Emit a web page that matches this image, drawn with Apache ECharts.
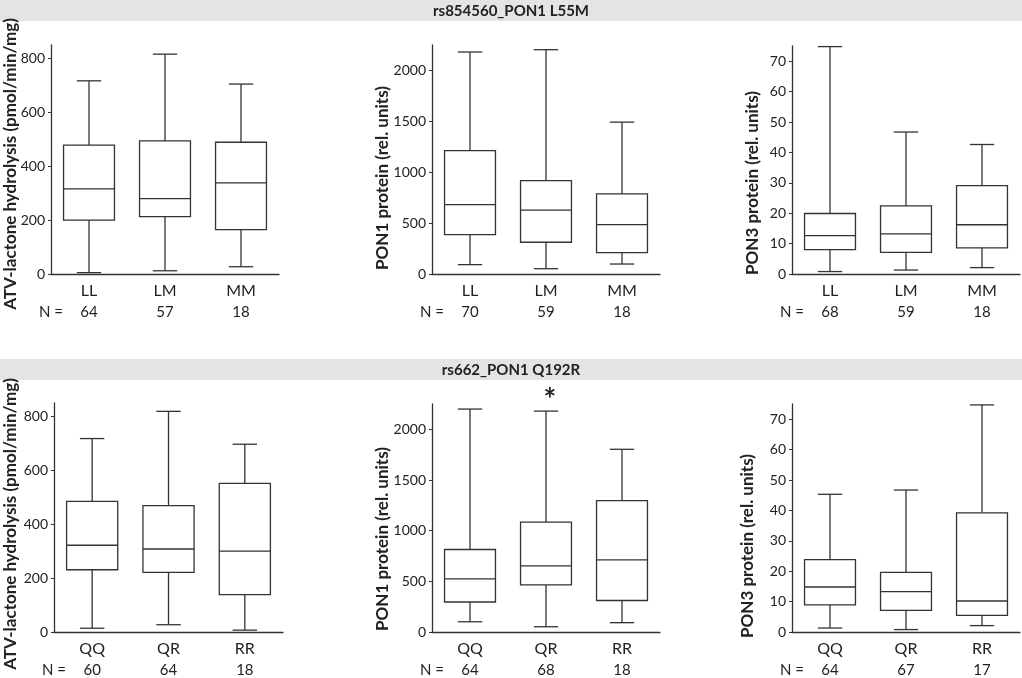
<!DOCTYPE html>
<html>
<head>
<meta charset="utf-8">
<script src="https://cdn.jsdelivr.net/npm/echarts@6/dist/echarts.min.js"></script>
<style>
html, body { margin: 0; padding: 0; background: #fff; }
#chart { width: 1022px; height: 678px; }
</style>
</head>
<body>
<div id="chart"></div>
<script>
// genotype categories
let catsL55M = ["LL", "LM", "MM"];
let catsQ192R = ["QQ", "QR", "RR"];

// box values per genotype: [min, q1, median, q3, max]
let atvL55M = [[5, 200, 316, 478, 717], [12, 213, 280, 494, 816], [27, 165, 338, 489, 705]];
let pon1L55M = [[92, 387, 682, 1213, 2181], [52, 312, 627, 918, 2204], [98, 210, 485, 787, 1492]];
let pon3L55M = [[0.8, 8.0, 12.6, 19.9, 74.8], [1.3, 7.1, 13.2, 22.4, 46.7], [2.1, 8.6, 16.2, 29.1, 42.6]];
let atvQ192R = [[14, 231, 322, 485, 718], [27, 221, 308, 469, 819], [7, 139, 300, 552, 697]];
let pon1Q192R = [[101, 296, 525, 814, 2200], [52, 466, 653, 1084, 2180], [92, 311, 712, 1296, 1803]];
let pon3Q192R = [[1.3, 8.9, 14.8, 23.8, 45.3], [0.8, 7.1, 13.3, 19.6, 46.7], [2.1, 5.5, 10.2, 39.2, 74.7]];

// sample sizes
let nAtvL55M = [64, 57, 18];
let nPon1L55M = [70, 59, 18];
let nPon3L55M = [68, 59, 18];
let nAtvQ192R = [60, 64, 18];
let nPon1Q192R = [64, 68, 18];
let nPon3Q192R = [64, 67, 17];

// y axis ranges / ticks
let yMax = [850, 2250, 75, 850, 2250, 75];
let yStep = [200, 500, 10, 200, 500, 10];

let yTitles = [
	"ATV-lactone hydrolysis (pmol/min/mg)",
	"PON1 protein (rel. units)",
	"PON3 protein (rel. units)",
	"ATV-lactone hydrolysis (pmol/min/mg)",
	"PON1 protein (rel. units)",
	"PON3 protein (rel. units)"
];
let headers = ["rs854560_PON1 L55M", "rs662_PON1 Q192R"];

let font = "Lato";
let ink = "#222";
let lineCol = "#333";

let panels = [
	{ cats: catsL55M, vals: atvL55M, n: nAtvL55M, grid: [51, 45, 228, 229], title: [11, 164] },
	{ cats: catsL55M, vals: pon1L55M, n: nPon1L55M, grid: [432, 45, 228, 229], title: [383, 178] },
	{ cats: catsL55M, vals: pon3L55M, n: nPon3L55M, grid: [792, 46, 228, 228], title: [753, 183] },
	{ cats: catsQ192R, vals: atvQ192R, n: nAtvQ192R, grid: [54, 403, 229, 229], title: [11, 524] },
	{ cats: catsQ192R, vals: pon1Q192R, n: nPon1Q192R, grid: [432, 404, 228, 228], title: [383, 539] },
	{ cats: catsQ192R, vals: pon3Q192R, n: nPon3Q192R, grid: [792, 404, 228, 228], title: [748, 546] }
];

function renderBox(params, api) {
	let x = api.value(0);
	let lo = api.coord([x, api.value(1)]);
	let q1 = api.coord([x, api.value(2)]);
	let md = api.coord([x, api.value(3)]);
	let q3 = api.coord([x, api.value(4)]);
	let hi = api.coord([x, api.value(5)]);
	let band = api.size([1, 0])[0];
	let bw = band * 0.67, cw = band * 0.32;
	let cx = lo[0];
	let st = { stroke: lineCol, lineWidth: 1.3, fill: null };
	function seg(x1, y1, x2, y2) {
		return { type: "line", shape: { x1: x1, y1: y1, x2: x2, y2: y2 }, style: st };
	}
	return {
		type: "group",
		children: [
			seg(cx, hi[1], cx, q3[1]),
			seg(cx, q1[1], cx, lo[1]),
			seg(cx - cw / 2, hi[1], cx + cw / 2, hi[1]),
			seg(cx - cw / 2, lo[1], cx + cw / 2, lo[1]),
			{
				type: "rect",
				shape: { x: cx - bw / 2, y: q3[1], width: bw, height: q1[1] - q3[1] },
				style: { stroke: lineCol, lineWidth: 1.3, fill: "#fff" }
			},
			seg(cx - bw / 2, md[1], cx + bw / 2, md[1])
		]
	};
}

let grids = [], xAxes = [], yAxes = [], series = [], graphics = [];

// grey header bands
graphics.push({ type: "rect", shape: { x: 0, y: 0, width: 1022, height: 21 }, style: { fill: "#e4e4e4" } });
graphics.push({ type: "rect", shape: { x: 0, y: 359, width: 1022, height: 21 }, style: { fill: "#e4e4e4" } });
graphics.push({ type: "text", x: 511, y: 11, style: { text: headers[0], font: "bold 15px " + font, fill: ink, textAlign: "center", textVerticalAlign: "middle" } });
graphics.push({ type: "text", x: 511, y: 370, style: { text: headers[1], font: "bold 15px " + font, fill: ink, textAlign: "center", textVerticalAlign: "middle" } });

panels.forEach(function(p, i) {
	grids.push({ left: p.grid[0], top: p.grid[1], width: p.grid[2], height: p.grid[3] });
	let n = p.n;
	xAxes.push({
		type: "category",
		gridIndex: i,
		data: p.cats,
		axisLine: { lineStyle: { color: lineCol, width: 1.3 } },
		axisTick: { alignWithLabel: true, length: 3, lineStyle: { color: lineCol } },
		axisLabel: {
			margin: 7,
			formatter: function(v, idx) { return "{c|" + v + "}\n{n|" + n[idx] + "}"; },
			rich: {
				c: { fontFamily: font, fontSize: 16, lineHeight: 20, color: ink },
				n: { fontFamily: font, fontSize: 15, lineHeight: 22, color: ink }
			}
		}
	});
	yAxes.push({
		type: "value",
		gridIndex: i,
		min: 0,
		max: yMax[i],
		interval: yStep[i],
		splitLine: { show: false },
		axisLine: { show: true, lineStyle: { color: lineCol, width: 1.3 } },
		axisTick: { show: true, length: 3, lineStyle: { color: lineCol } },
		axisLabel: {
			showMaxLabel: false, margin: 6, fontFamily: font, fontSize: 14, color: ink,
			formatter: function(v) { return String(v); }
		}
	});
	series.push({
		type: "custom",
		xAxisIndex: i,
		yAxisIndex: i,
		renderItem: renderBox,
		encode: { x: 0, y: [1, 2, 3, 4, 5] },
		data: p.vals.map(function(v, k) { return [k].concat(v); }),
		silent: true
	});
	graphics.push({
		type: "text", x: p.title[0], y: p.title[1], rotation: Math.PI / 2,
		style: { text: yTitles[i], font: "bold 17px " + font, fill: ink, textAlign: "center", textVerticalAlign: "middle" }
	});
	graphics.push({
		type: "text", x: p.grid[0], y: p.grid[1] + p.grid[3] + 38,
		style: { text: "N =", font: "15px " + font, fill: ink, textAlign: "center", textVerticalAlign: "middle" }
	});
});

// significance mark over QR (PON1, Q192R)
graphics.push({ type: "text", x: 550, y: 400, style: { text: "*", font: "bold 30px " + font, fill: ink, textAlign: "center", textVerticalAlign: "middle" } });

let chart = echarts.init(document.getElementById("chart"));
chart.setOption({
	animation: false,
	backgroundColor: "#fff",
	grid: grids,
	xAxis: xAxes,
	yAxis: yAxes,
	series: series,
	graphic: graphics
});
</script>
</body>
</html>
